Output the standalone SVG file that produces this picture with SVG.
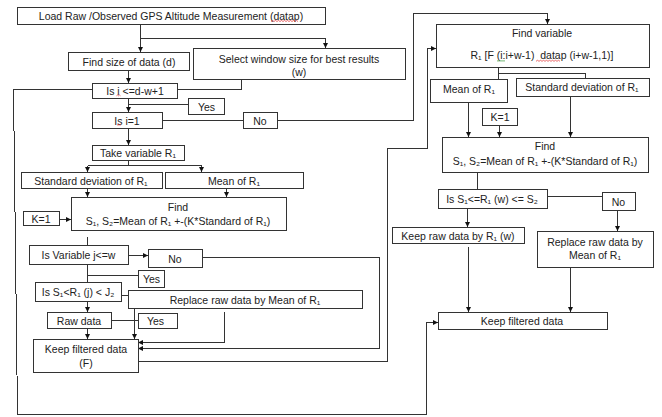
<svg xmlns="http://www.w3.org/2000/svg" width="662" height="417" viewBox="0 0 662 417">
<defs>
<marker id="arr" viewBox="0 0 6 6" refX="6" refY="3" markerWidth="5" markerHeight="5" orient="auto" markerUnits="userSpaceOnUse"><path d="M0,0 L6,3 L0,6 z" fill="#111"/></marker>
<style>
.b{fill:#fff;stroke:#333;stroke-width:1;shape-rendering:crispEdges}
.t{font-family:"Liberation Sans",Arial,sans-serif;font-size:10.5px;fill:#222;text-anchor:middle;dominant-baseline:central}
.c path{fill:none;stroke:#333;stroke-width:1;shape-rendering:crispEdges}
.a{marker-end:url(#arr)}
.sq{fill:none;stroke:#e03030;stroke-width:0.7}
.sg{fill:none;stroke:#3a9a3a;stroke-width:0.7}
</style>
</defs>
<rect width="662" height="417" fill="#fff"/>

<g class="c" id="connectors">
<path class="a" d="M140.5,24 V52"/>
<path class="a" d="M140.5,38.5 H325.5 V48"/>
<path class="a" d="M128.5,70 V83"/>
<path d="M241.5,79 V89.5 H177"/>
<path d="M128.5,104.5 H188"/>
<path class="a" d="M128.5,98 V112"/>
<path d="M162,120.5 H243"/>
<path class="a" d="M277,120.5 H413.5 V13.5 H547.5 V24"/>
<path class="a" d="M128.5,128 V145"/>
<path d="M128.5,160 V165.5"/>
<path d="M87.5,165.5 H201.5"/>
<path class="a" d="M87.5,165.5 V172"/>
<path class="a" d="M201.5,165.5 V172"/>
<path class="a" d="M87.5,188 V197"/>
<path class="a" d="M226.5,188 V197"/>
<path class="a" d="M59,219.5 H71"/>
<path d="M87.5,237 V245"/>
<path class="a" d="M128,255.5 H148"/>
<path class="a" d="M202,257.5 H379.5 V348.5 H138"/>
<path d="M87.5,264 V282"/>
<path d="M87.5,275.5 H138"/>
<path d="M121,295.5 H128"/>
<path class="a" d="M87.5,301 V312"/>
<path d="M111,320.5 H138"/>
<path class="a" d="M87.5,328 V339"/>
<path class="a" d="M134.5,308 V339"/>
<path class="a" d="M224.5,312 V342.5 H138"/>
<path class="a" d="M138,361.5 H387.5 V148.5 H427.5 V48.5 H436"/>
<path class="a" d="M92,89.5 H13.5 L17.5,414.5 H426.5 V322.5 H438"/>
<path d="M498.5,67 V79"/>
<path d="M498.5,73.5 H585.5 V78"/>
<path class="a" d="M468.5,102 V137"/>
<path class="a" d="M499.5,125 V137"/>
<path class="a" d="M570.5,96 V137"/>
<path d="M477.5,172 V189"/>
<path d="M547,196.5 H602"/>
<path class="a" d="M617.5,210 V231"/>
<path class="a" d="M467.5,208 V227"/>
<path class="a" d="M468.5,247 V312"/>
<path class="a" d="M570.5,267 V312"/>
</g>

<g id="load"><rect class="b" x="17.5" y="7.5" width="308" height="17"/><text class="t" x="171" y="16">Load Raw /Observed GPS Altitude Measurement (datap)</text><path class="sq" d="M271,21.5 l1.5,-1 1.5,1 1.5,-1 1.5,1 1.5,-1 1.5,1 1.5,-1 1.5,1 1.5,-1 1.5,1 1.5,-1 1.5,1 1.5,-1 1.5,1 1.5,-1 1.5,1 1.5,-1 1.5,1"/></g>
<g id="findsize"><rect class="b" x="68.5" y="52.5" width="121" height="18"/><text class="t" x="129" y="61.5">Find size of data (d)</text></g>
<g id="select"><rect class="b" x="193.5" y="48.5" width="212" height="31"/><text class="t" x="299" y="59">Select window size for best results</text><text class="t" x="299" y="71.5">(w)</text></g>
<g id="isi"><rect class="b" x="92.5" y="83.5" width="85" height="15"/><text class="t" x="135" y="91">Is i &lt;=d-w+1</text><path class="sq" d="M116.5,95.8 l1,-0.8 1,0.8 1,-0.8 1,0.8"/></g>
<g id="yes1"><rect class="b" x="188.5" y="98.5" width="36" height="16"/><text class="t" x="206.5" y="106.5">Yes</text></g>
<g id="isi1"><rect class="b" x="92.5" y="112.5" width="70" height="16"/><text class="t" x="127" y="120.5">Is i=1</text><path class="sq" d="M117,125.3 l1,-0.8 1,0.8 1,-0.8 1,0.8"/></g>
<g id="no1"><rect class="b" x="243.5" y="112.5" width="34" height="16"/><text class="t" x="260" y="120.5">No</text></g>
<g id="take"><rect class="b" x="92.5" y="145.5" width="92" height="15"/><text class="t" x="138" y="153">Take variable R₁</text></g>
<g id="std1"><rect class="b" x="21.5" y="172.5" width="141" height="16"/><text class="t" x="91" y="180.5">Standard deviation of R₁</text></g>
<g id="mean1"><rect class="b" x="165.5" y="172.5" width="138" height="16"/><text class="t" x="234" y="180.5">Mean of R₁</text></g>
<g id="find1"><rect class="b" x="71.5" y="197.5" width="215" height="33"/><text class="t" x="178" y="206.5">Find</text><text class="t" x="178" y="221">S₁, S₂=Mean of R₁ +-(K*Standard of R₁)</text></g>
<g id="k1"><rect class="b" x="23.5" y="211.5" width="36" height="14"/><text class="t" x="41" y="218.5">K=1</text></g>
<g id="isvar"><rect class="b" x="29.5" y="245.5" width="99" height="19"/><text class="t" x="78.5" y="255">Is Variable j&lt;=w</text></g>
<g id="no2"><rect class="b" x="148.5" y="249.5" width="54" height="18"/><text class="t" x="175" y="258.5">No</text></g>
<g id="yes2"><rect class="b" x="138.5" y="270.5" width="26" height="17"/><text class="t" x="151.5" y="279">Yes</text></g>
<g id="iss1"><rect class="b" x="35.5" y="282.5" width="86" height="19"/><text class="t" x="78" y="292">Is S₁&lt;R₁ (j) &lt; J₂</text></g>
<g id="replace1"><rect class="b" x="128.5" y="290.5" width="234" height="18"/><text class="t" x="245" y="299.5">Replace raw data by Mean of R₁</text></g>
<g id="raw"><rect class="b" x="47.5" y="312.5" width="64" height="16"/><text class="t" x="79" y="320.5">Raw data</text></g>
<g id="yes3"><rect class="b" x="138.5" y="313.5" width="39" height="15"/><text class="t" x="155.5" y="321">Yes</text></g>
<g id="keepF"><rect class="b" x="33.5" y="339.5" width="105" height="33"/><text class="t" x="86" y="348.5">Keep filtered data</text><text class="t" x="86" y="363">(F)</text></g>

<g id="findvar"><rect class="b" x="436.5" y="24.5" width="213" height="43"/><text class="t" x="542" y="33">Find variable</text><text class="t" x="542" y="55">R₁ [F (i:i+w-1)&#160; datap (i+w-1,1)]</text><path class="sg" d="M497,61.3 l1,-0.8 1,0.8 1,-0.8 1,0.8 1,-0.8 1,0.8 1,-0.8 1,0.8"/><path class="sq" d="M536,61.3 l1.5,-1 1.5,1 1.5,-1 1.5,1 1.5,-1 1.5,1 1.5,-1 1.5,1 1.5,-1 1.5,1 1.5,-1 1.5,1 1.5,-1 1.5,1 1.5,-1 1.5,1"/></g>
<g id="mean2"><rect class="b" x="430.5" y="79.5" width="77" height="23"/><text class="t" x="469" y="89">Mean of R₁</text></g>
<g id="std2"><rect class="b" x="516.5" y="78.5" width="133" height="18"/><text class="t" x="582" y="87">Standard deviation of R₁</text></g>
<g id="k2"><rect class="b" x="482.5" y="108.5" width="35" height="17"/><text class="t" x="500" y="117">K=1</text></g>
<g id="find2"><rect class="b" x="442.5" y="137.5" width="206" height="35"/><text class="t" x="545" y="146">Find</text><text class="t" x="545" y="160.5">S₁, S₂=Mean of R₁ +-(K*Standard of R₁)</text></g>
<g id="iss2"><rect class="b" x="438.5" y="189.5" width="109" height="19"/><text class="t" x="492" y="198.5">Is S₁&lt;=R₁ (w) &lt;= S₂</text></g>
<g id="no3"><rect class="b" x="602.5" y="192.5" width="33" height="18"/><text class="t" x="618.5" y="201.5">No</text></g>
<g id="keepraw"><rect class="b" x="392.5" y="227.5" width="132" height="16"/><text class="t" x="458" y="235.5">Keep raw data by R₁ (w)</text></g>
<g id="replace2"><rect class="b" x="537.5" y="231.5" width="116" height="36"/><text class="t" x="595" y="241.5">Replace raw data by</text><text class="t" x="595" y="254.5">Mean of R₁</text></g>
<g id="keepfilt2"><rect class="b" x="438.5" y="312.5" width="169" height="17"/><text class="t" x="522" y="321">Keep filtered data</text></g>
</svg>
